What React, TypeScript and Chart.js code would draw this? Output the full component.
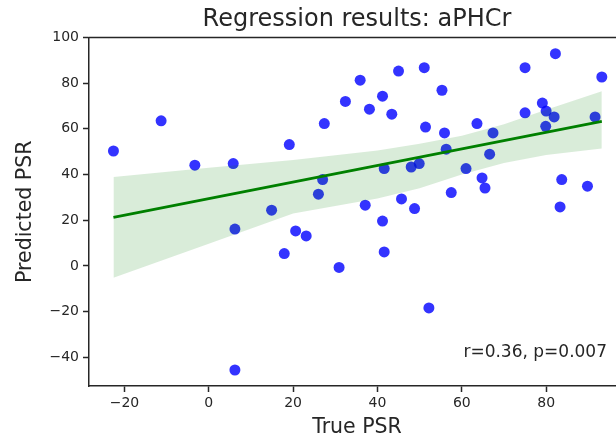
import React, { useEffect, useRef } from "react";
import { Chart, registerables } from "chart.js";

Chart.register(...registerables);

// ---- data ----
const truePSR = [
  -22.6, -11.3, -3.3, 5.8, 6.2, 6.2, 14.9, 17.9, 19.1, 20.6, 23.1, 26.0, 27.0, 27.4,
  30.9, 32.4, 35.9, 37.1, 38.1, 41.2, 41.2, 41.6, 41.6, 43.4, 45.0, 45.7, 48.0, 48.8,
  49.9, 51.1, 51.4, 52.2, 55.3, 55.9, 56.3, 57.5, 61.0, 63.6, 64.8, 65.5, 66.6, 67.4,
  75.0, 75.0, 79.1, 79.9, 80.0, 81.9, 82.2, 83.3, 83.7, 89.8, 91.6, 93.2,
];
const predictedPSR = [
  50.3, 63.5, 44.1, 44.8, 16.1, -45.6, 24.4, 5.4, 53.1, 15.3, 13.1, 31.4, 37.8, 62.3,
  -0.7, 72.0, 81.3, 26.6, 68.6, 74.3, 19.6, 42.6, 6.1, 66.4, 85.3, 29.3, 43.3, 25.1,
  44.8, 86.8, 60.8, -18.4, 76.9, 58.2, 51.1, 32.1, 42.6, 62.3, 38.5, 34.1, 48.9, 58.2,
  86.8, 67.0, 71.3, 61.1, 67.8, 65.2, 92.9, 25.8, 37.8, 34.9, 65.2, 82.7,
];
const fitX = [-22.6, 93.2];
const fitY = [21.2, 63.3];
const bandX = [-22.6, 0, 20, 40, 50, 60, 70, 80, 93.2];
const bandUpper = [38.9, 43.0, 46.4, 50.5, 53.5, 57.0, 62.0, 68.4, 76.5];
const bandLower = [-5.2, 9.7, 22.9, 29.5, 34.0, 40.0, 45.0, 48.5, 51.4];
const xTicks = [-20, 0, 20, 40, 60, 80];
const yTicks = [-40, -20, 0, 20, 40, 60, 80, 100];
const titleText = "Regression results: aPHCr";
const xLabel = "True PSR";
const yLabel = "Predicted PSR";
const statsText = "r=0.36, p=0.007";

const FONT = "'DejaVu Sans', 'Liberation Sans', sans-serif";
const INK = "#262626";

const fmt = (v: number) => (v < 0 ? "\u2212" + Math.abs(v) : String(v));

const framePlugin = {
  id: "frameAndText",
  afterDraw(chart: any) {
    const { ctx, chartArea } = chart;
    ctx.save();
    ctx.strokeStyle = INK;
    ctx.lineWidth = 1.5;
    ctx.beginPath();
    ctx.moveTo(chartArea.left - 0.75, chartArea.top);
    ctx.lineTo(chartArea.right, chartArea.top);
    ctx.stroke();
    ctx.fillStyle = INK;
    ctx.font = `17px ${FONT}`;
    ctx.textAlign = "right";
    ctx.textBaseline = "alphabetic";
    ctx.fillText(statsText, chartArea.right - 18, chartArea.bottom - 29);
    ctx.restore();
  },
};

export default function App() {
  const ref = useRef<HTMLCanvasElement | null>(null);

  useEffect(() => {
    document.body.style.margin = "0";
    const canvas = ref.current;
    if (!canvas) return;
    const chart = new Chart(canvas, {
      type: "scatter",
      data: {
        datasets: [
          {
            type: "line",
            label: "fit",
            data: fitX.map((x, i) => ({ x, y: fitY[i] })),
            borderColor: "#008000",
            borderWidth: 2.8,
            pointRadius: 0,
            fill: false,
            order: 0,
          } as any,
          {
            type: "line",
            label: "ci upper",
            data: bandX.map((x, i) => ({ x, y: bandUpper[i] })),
            borderWidth: 0,
            borderColor: "rgba(0,0,0,0)",
            backgroundColor: "rgba(0,128,0,0.15)",
            pointRadius: 0,
            fill: "+1",
            order: 1,
          } as any,
          {
            type: "line",
            label: "ci lower",
            data: bandX.map((x, i) => ({ x, y: bandLower[i] })),
            borderWidth: 0,
            borderColor: "rgba(0,0,0,0)",
            pointRadius: 0,
            fill: false,
            order: 2,
          } as any,
          {
            type: "scatter",
            label: "points",
            data: truePSR.map((x, i) => ({ x, y: predictedPSR[i] })),
            backgroundColor: "rgba(0,0,255,0.8)",
            borderWidth: 0,
            pointRadius: 5.5,
            order: 3,
          } as any,
        ],
      },
      options: {
        animation: false,
        responsive: false,
        events: [],
        layout: { padding: 0, autoPadding: false },
        plugins: {
          legend: { display: false },
          tooltip: { enabled: false },
          title: {
            display: true,
            text: titleText,
            fullSize: false,
            color: INK,
            font: { family: FONT, size: 24, weight: "normal" as any, lineHeight: 1.2 },
            padding: { top: 5, bottom: 3.7 },
          },
        },
        scales: {
          x: {
            type: "linear",
            min: -28.4,
            max: 98.7,
            afterBuildTicks: (s: any) => {
              s.ticks = xTicks.map((v) => ({ value: v }));
            },
            afterFit: (s: any) => {
              s.height = 53;
            },
            ticks: {
              color: INK,
              font: { family: FONT, size: 14 },
              padding: 3,
              maxRotation: 0,
              autoSkip: false,
              callback: (v: any) => fmt(Number(v)),
            },
            grid: {
              drawOnChartArea: false,
              drawTicks: true,
              tickLength: 6,
              tickWidth: 1.5,
              tickColor: INK,
            },
            border: { display: true, color: INK, width: 1.5 },
            title: {
              display: true,
              text: xLabel,
              color: INK,
              font: { family: FONT, size: 20.5, lineHeight: 1.1 },
              padding: { top: 0, bottom: 0 },
            },
          },
          y: {
            type: "linear",
            min: -52.6,
            max: 100,
            afterBuildTicks: (s: any) => {
              s.ticks = yTicks.map((v) => ({ value: v }));
            },
            afterFit: (s: any) => {
              s.width = 89;
            },
            ticks: {
              color: INK,
              font: { family: FONT, size: 14 },
              padding: 4,
              autoSkip: false,
              callback: (v: any) => fmt(Number(v)),
            },
            grid: {
              drawOnChartArea: false,
              drawTicks: true,
              tickLength: 6,
              tickWidth: 1.5,
              tickColor: INK,
            },
            border: { display: true, color: INK, width: 1.5 },
            title: {
              display: true,
              text: yLabel,
              color: INK,
              font: { family: FONT, size: 20.5, lineHeight: 1.2 },
              padding: { top: 13, bottom: 0 },
            },
          },
        },
      },
      plugins: [framePlugin],
    });
    return () => chart.destroy();
  }, []);

  return (
    <div style={{ width: 616, height: 439, overflow: "hidden", background: "#fff" }}>
      <canvas ref={ref} width={625} height={439} style={{ display: "block" }} />
    </div>
  );
}
